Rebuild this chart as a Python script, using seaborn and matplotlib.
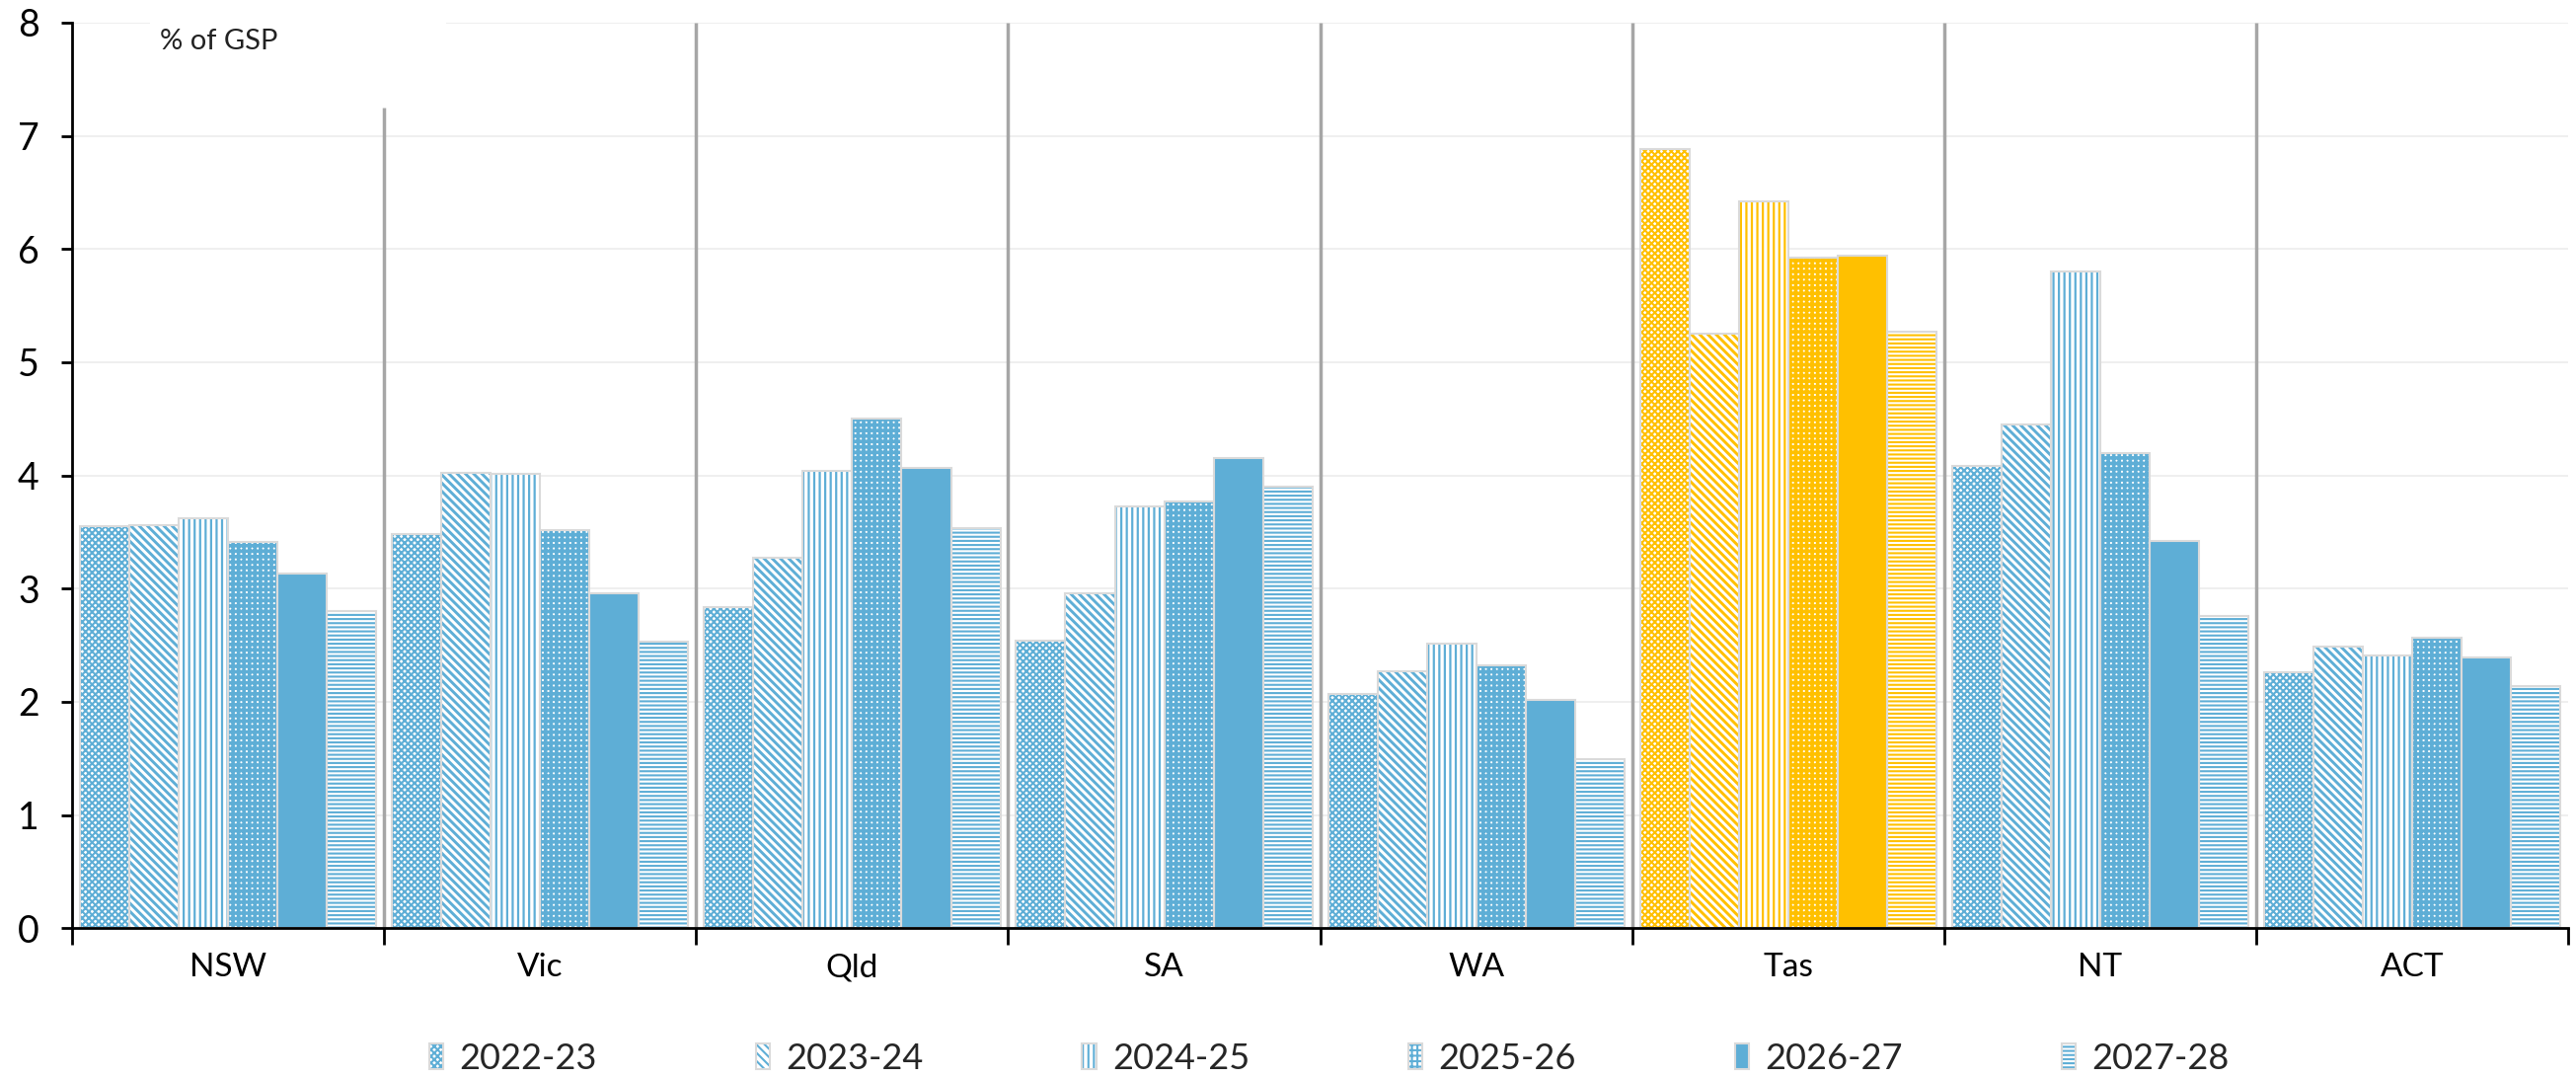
import numpy as np
import pandas as pd
import matplotlib
matplotlib.use("Agg")
import matplotlib.pyplot as plt
from matplotlib.patches import Rectangle
from matplotlib.legend_handler import HandlerTuple
import seaborn as sns

# ---- data -------------------------------------------------------------
states = ["NSW", "Vic", "Qld", "SA", "WA", "Tas", "NT", "ACT"]
years = ["2022-23", "2023-24", "2024-25", "2025-26", "2026-27", "2027-28"]

v_2022_23 = [3.55, 3.48, 2.84, 2.54, 2.07, 6.88, 4.08, 2.26]
v_2023_24 = [3.56, 4.02, 3.27, 2.96, 2.27, 5.25, 4.45, 2.49]
v_2024_25 = [3.62, 4.01, 4.04, 3.73, 2.51, 6.42, 5.80, 2.41]
v_2025_26 = [3.41, 3.52, 4.50, 3.77, 2.32, 5.92, 4.20, 2.57]
v_2026_27 = [3.13, 2.96, 4.07, 4.15, 2.02, 5.94, 3.42, 2.39]
v_2027_28 = [2.80, 2.53, 3.53, 3.90, 1.49, 5.27, 2.76, 2.14]

highlight_state = "Tas"
unit_label = "% of GSP"

series = [v_2022_23, v_2023_24, v_2024_25, v_2025_26, v_2026_27, v_2027_28]
df = pd.DataFrame(
    [(s, y, v) for y, vals in zip(years, series) for s, v in zip(states, vals)],
    columns=["state", "year", "value"],
)

# ---- style ------------------------------------------------------------
BLUE = "#5eaed6"
GOLD = "#ffc000"
OUTLINE = "#dadada"
SEP = "#a6a6a6"

# hatch pattern, hatch line width (pt) and whether the bar is solid
styles = {
    "2022-23": ("xxxxx", 1.5, False),
    "2023-24": ("\\\\\\\\", 2.1, False),
    "2024-25": ("|||", 1.6, False),
    "2025-26": ("+++", 2.6, False),
    "2026-27": (None, 0.0, True),
    "2027-28": ("----", 1.5, False),
}

sns.set_theme(style="white")
plt.rcParams["font.family"] = ["Lato", "DejaVu Sans"]
plt.rcParams["hatch.linewidth"] = 1.5

fig = plt.figure(figsize=(26.10, 10.92), dpi=100)
ax = fig.add_axes([0.028, 0.139, 0.969, 0.840])

sns.barplot(
    data=df, x="state", y="value", hue="year",
    order=states, hue_order=years,
    palette=[BLUE] * len(years), saturation=1,
    width=0.95, gap=0, linewidth=0, legend=False, ax=ax,
)


def style_patch(p, color, year):
    hatch, hlw, solid = styles[year]
    if solid:
        p.set_facecolor(color)
        p.set_edgecolor(color)
        p.set_hatch(None)
    else:
        p.set_facecolor("white")
        p.set_edgecolor(color)
        p.set_hatch(hatch)
        if hasattr(p, "set_hatch_linewidth"):
            p.set_hatch_linewidth(hlw)
    p.set_linewidth(0)


for i, cont in enumerate(ax.containers):
    for j, bar in enumerate(cont):
        color = GOLD if states[j] == highlight_state else BLUE
        style_patch(bar, color, years[i])
        bar.set_zorder(2)
        ax.add_patch(Rectangle(bar.get_xy(), bar.get_width(), bar.get_height(),
                               fill=False, edgecolor=OUTLINE, linewidth=1.5,
                               zorder=2.1))

# ---- axes -------------------------------------------------------------
ax.set_xlim(-0.5, len(states) - 0.5)
ax.set_ylim(0, 8)
ax.set_yticks(range(0, 9))
ax.set_xlabel("")
ax.set_ylabel("")

ax.yaxis.grid(True, color="#eeeeee", linewidth=1.3)
ax.xaxis.grid(False)
ax.set_axisbelow(True)

for side in ["top", "right"]:
    ax.spines[side].set_visible(False)
for side in ["left", "bottom"]:
    ax.spines[side].set_color("black")
    ax.spines[side].set_linewidth(2)

ax.tick_params(axis="y", which="major", length=8, width=2, color="black",
               direction="out", labelsize=27, pad=16, labelcolor="black", left=True)
ax.tick_params(axis="x", which="major", length=0, labelsize=24, pad=18,
               labelcolor="black")
ax.set_xticks(np.arange(-0.5, len(states)), minor=True)
ax.tick_params(axis="x", which="minor", length=12, width=2, color="black",
               direction="out", bottom=True)

# group separators
for k, b in enumerate(np.arange(0.5, len(states) - 0.5)):
    top = 7.25 if k == 0 else 8
    ax.vlines(b, 0, top, color=SEP, linewidth=2.5, zorder=1.5)

# unit label in a white text box
ax.add_patch(Rectangle((-0.25, 7.27), 0.95, 0.73, facecolor="white",
                       edgecolor="none", zorder=3))
ax.text(-0.22, 7.76, unit_label, fontsize=21, color="#222222",
        va="baseline", ha="left", zorder=4)

# ---- legend -----------------------------------------------------------
handles = []
for y in years:
    hp = Rectangle((0, 0), 1, 1)
    style_patch(hp, BLUE, y)
    outline = Rectangle((0, 0), 1, 1, fill=False, edgecolor=OUTLINE, linewidth=1.5)
    handles.append((hp, outline))

fig.legend(handles, years, handler_map={tuple: HandlerTuple(ndivide=1, pad=0)},
           loc="center", bbox_to_anchor=(0.516, 0.018), ncol=6, frameon=False,
           fontsize=26, handlelength=0.4, handleheight=0.75, handletextpad=0.45,
           columnspacing=4.45, borderaxespad=0)

fig.savefig("out.png", dpi=100, facecolor="white")
